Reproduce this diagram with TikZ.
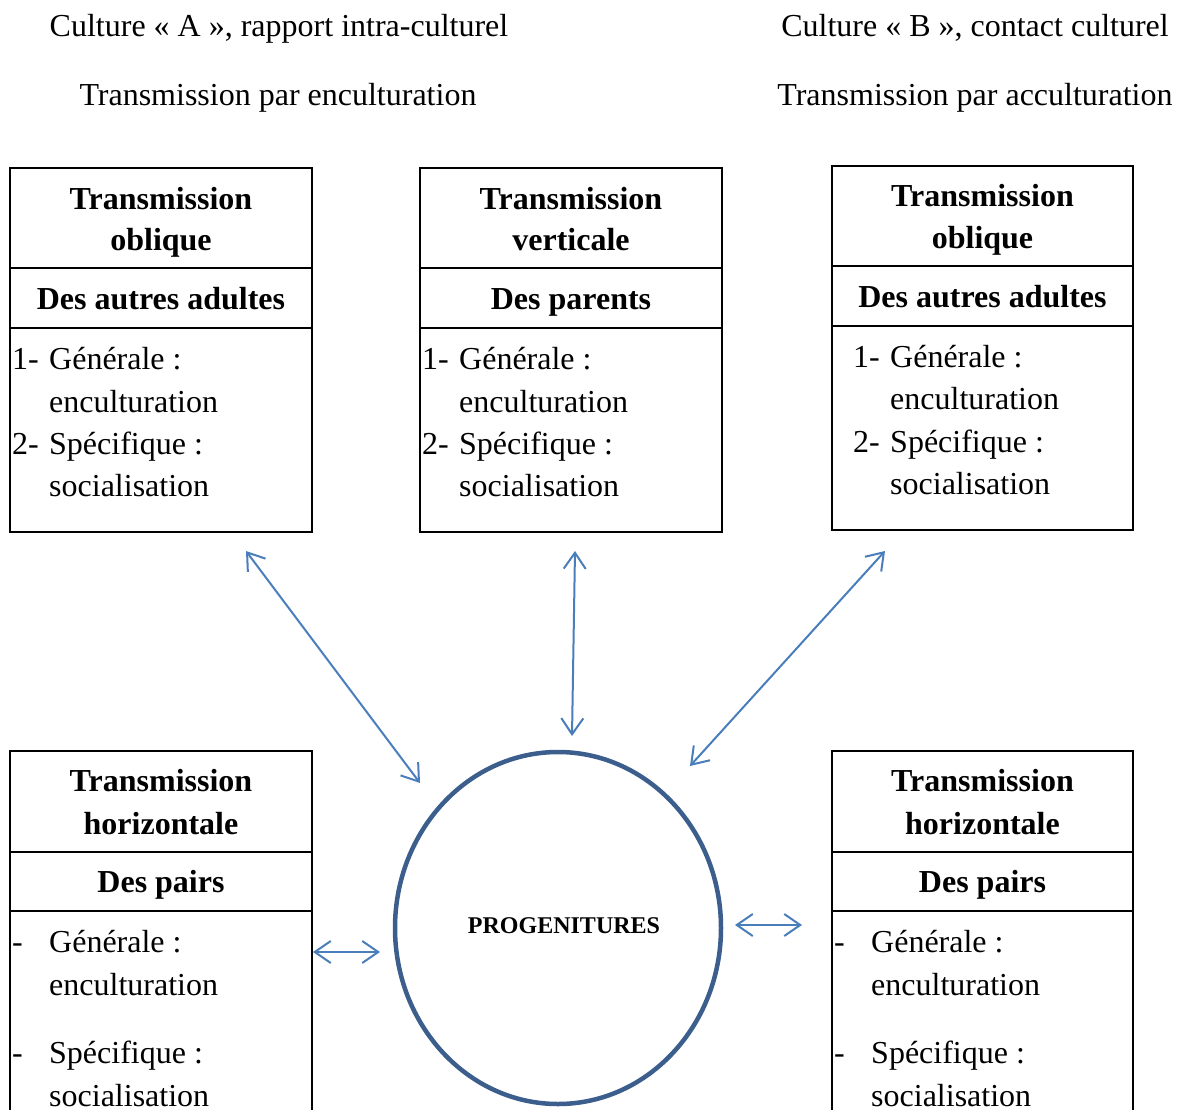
\documentclass[tikz,border=0pt]{standalone}
\usepackage{fontspec}
\setmainfont{Liberation Serif}
\usetikzlibrary{arrows.meta,shapes.geometric}
\definecolor{linkblue}{HTML}{4A7EBB}
\definecolor{circblue}{HTML}{3B5E8C}
\tikzset{
	boxline/.style={draw=black, line width=1.3pt},
	hdr/.style={anchor=base, inner sep=0pt},
	ttl/.style={anchor=base, inner sep=0pt, font=\fontsize{32}{38}\selectfont\bfseries},
	txt/.style={anchor=base west, inner sep=0pt},
	link/.style={draw=linkblue, line width=2pt, {Straight Barb[length=16pt,width=22pt]}-{Straight Barb[length=16pt,width=22pt]}},
}
\begin{document}
\begin{tikzpicture}[x=1pt, y=-1pt, every node/.append style={font=\fontsize{32}{38}\selectfont}]
	\clip (0,0) rectangle (1177,1110);
	% en-tetes
	\node[hdr] (cultA) at (279,37) {Culture « A », rapport intra-culturel};
	\node[hdr] (transA) at (278,106) {Transmission par enculturation};
	\node[hdr] (cultB) at (975,37) {Culture « B », contact culturel};
	\node[hdr] (transB) at (975,106) {Transmission par acculturation};
	% cadre oblique gauche
	\draw[boxline] (10,168) rectangle (312,532);
	\draw[boxline] (10,268) -- (312,268);
	\draw[boxline] (10,328) -- (312,328);
	\node[ttl] (oblA1) at (161,209) {Transmission};
	\node[ttl] (oblA2) at (161,250) {oblique};
	\node[ttl] (adultA) at (161,309) {Des autres adultes};
	\node[txt] (numA1) at (12,369) {1-};
	\node[txt] (genA) at (49,369) {Générale :};
	\node[txt] (encA) at (49,412) {enculturation};
	\node[txt] (numA2) at (12,454) {2-};
	\node[txt] (speA) at (49,454) {Spécifique :};
	\node[txt] (socA) at (49,496) {socialisation};
	% cadre vertical
	\draw[boxline] (420,168) rectangle (722,532);
	\draw[boxline] (420,268) -- (722,268);
	\draw[boxline] (420,328) -- (722,328);
	\node[ttl] (vert1) at (571,209) {Transmission};
	\node[ttl] (vert2) at (571,250) {verticale};
	\node[ttl] (parents) at (571,309) {Des parents};
	\node[txt] (numV1) at (422,369) {1-};
	\node[txt] (genV) at (459,369) {Générale :};
	\node[txt] (encV) at (459,412) {enculturation};
	\node[txt] (numV2) at (422,454) {2-};
	\node[txt] (speV) at (459,454) {Spécifique :};
	\node[txt] (socV) at (459,496) {socialisation};
	% cadre oblique droit
	\draw[boxline] (832,166) rectangle (1133,530);
	\draw[boxline] (832,266) -- (1133,266);
	\draw[boxline] (832,326) -- (1133,326);
	\node[ttl] (oblB1) at (982.5,207) {Transmission};
	\node[ttl] (oblB2) at (982.5,248) {oblique};
	\node[ttl] (adultB) at (982.5,307) {Des autres adultes};
	\node[txt] (numB1) at (853,367) {1-};
	\node[txt] (genB) at (890,367) {Générale :};
	\node[txt] (encB) at (890,409) {enculturation};
	\node[txt] (numB2) at (853,452) {2-};
	\node[txt] (speB) at (890,452) {Spécifique :};
	\node[txt] (socB) at (890,494) {socialisation};
	% cadre horizontal gauche
	\draw[boxline] (10,751) rectangle (312,1140);
	\draw[boxline] (10,852) -- (312,852);
	\draw[boxline] (10,911) -- (312,911);
	\node[ttl] (horA1) at (161,791) {Transmission};
	\node[ttl] (horA2) at (161,834) {horizontale};
	\node[ttl] (pairsA) at (161,892) {Des pairs};
	\node[txt] (dashA1) at (12,952) {-};
	\node[txt] (genHA) at (49,952) {Générale :};
	\node[txt] (encHA) at (49,995) {enculturation};
	\node[txt] (dashA2) at (12,1063) {-};
	\node[txt] (speHA) at (49,1063) {Spécifique :};
	\node[txt] (socHA) at (49,1106) {socialisation};
	% cadre horizontal droit
	\draw[boxline] (832,751) rectangle (1133,1140);
	\draw[boxline] (832,852) -- (1133,852);
	\draw[boxline] (832,911) -- (1133,911);
	\node[ttl] (horB1) at (982.5,791) {Transmission};
	\node[ttl] (horB2) at (982.5,834) {horizontale};
	\node[ttl] (pairsB) at (982.5,892) {Des pairs};
	\node[txt] (dashB1) at (834,952) {-};
	\node[txt] (genHB) at (871,952) {Générale :};
	\node[txt] (encHB) at (871,995) {enculturation};
	\node[txt] (dashB2) at (834,1063) {-};
	\node[txt] (speHB) at (871,1063) {Spécifique :};
	\node[txt] (socHB) at (871,1106) {socialisation};
	% progenitures
	\node[ellipse, draw=circblue, line width=4.5pt, minimum width=326pt, minimum height=352pt, inner sep=0pt] (prog) at (558,928) {};
	\node[inner sep=0pt, font=\fontsize{24}{28}\selectfont\bfseries] (progtxt) at (564,926) {PROGENITURES};
	% fleches
	\coordinate (oblAend) at (246,551);
	\coordinate (progNW) at (420,783);
	\coordinate (vertend) at (575,551);
	\coordinate (progN) at (572,736);
	\coordinate (oblBend) at (885,551);
	\coordinate (progNE) at (690,766);
	\coordinate (horAend) at (313,952);
	\coordinate (progW) at (380,952);
	\coordinate (progE) at (735,925);
	\coordinate (horBend) at (802,925);
	\draw[link] (oblAend) -- (progNW);
	\draw[link] (vertend) -- (progN);
	\draw[link] (oblBend) -- (progNE);
	\draw[link] (horAend) -- (progW);
	\draw[link] (progE) -- (horBend);
\end{tikzpicture}
\end{document}
